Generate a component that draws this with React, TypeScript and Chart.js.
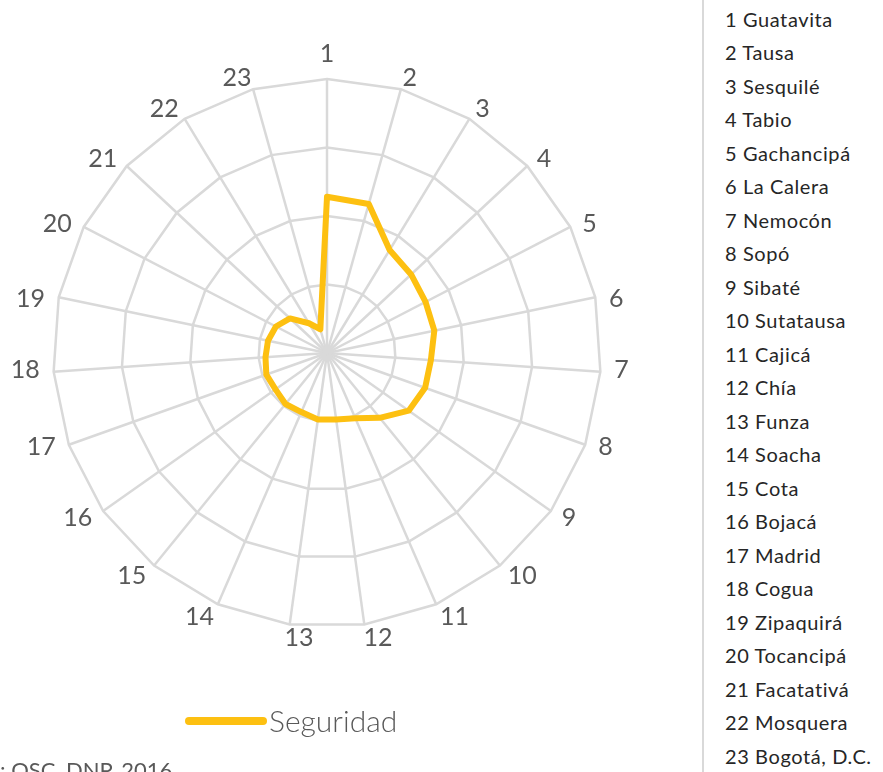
import React, { useEffect, useRef } from "react";
import { Chart, registerables } from "chart.js";

Chart.register(...registerables);

const categories = ["1","2","3","4","5","6","7","8","9","10","11","12","13","14","15","16","17","18","19","20","21","22","23"];
const municipios = [
  "Guatavita","Tausa","Sesquilé","Tabio","Gachancipá","La Calera","Nemocón","Sopó","Sibaté","Sutatausa","Cajicá","Chía",
  "Funza","Soacha","Cota","Bojacá","Madrid","Cogua","Zipaquirá","Tocancipá","Facatativá","Mosquera","Bogotá, D.C.",
];
const seguridad = [57, 56.5, 44, 42, 40.5, 40, 38, 38, 36.5, 30.5, 26, 24.5, 24.5, 23.5, 24, 23, 23.5, 22.5, 22, 21, 18.5, 12.7, 9];
const scaleMax = 100;
const scaleStep = 25;
const seriesName = "Seguridad";
const sourceText = "Fuente: OSC, DNP, 2016";

const LINE_COLOR = "#FDC011";
const GRID_COLOR = "#D9D9D9";
const LABEL_FONT = "25px Lato";

// Draws the category labels around the spokes, Excel-style placement.
const excelPointLabels = {
  id: "excelPointLabels",
  afterDraw(chart: any) {
    const scale = chart.scales.r;
    const ctx = chart.ctx;
    const labels: string[] = chart.data.labels;
    ctx.save();
    ctx.font = LABEL_FONT;
    ctx.fillStyle = "#595959";
    ctx.textAlign = "center";
    ctx.textBaseline = "alphabetic";
    labels.forEach((lab, i) => {
      const theta = scale.getIndexAngle(i);
      const w = ctx.measureText(lab).width;
      let x: number;
      let y: number;
      if (i === 0) {
        const p = scale.getPointPosition(i, scale.drawingArea + 26);
        x = p.x;
        y = p.y;
      } else {
        const p = scale.getPointPosition(i, scale.drawingArea + 17);
        const sx = Math.sign(Math.sin(theta - Math.PI / 18));
        const sy = Math.sign(Math.cos(theta));
        x = p.x + sx * (w / 2 - 3);
        y = p.y + sy * 4;
      }
      ctx.fillText(lab, x, y + 9);
    });
    ctx.restore();
  },
};

export default function App() {
  const ref = useRef<HTMLCanvasElement | null>(null);

  useEffect(() => {
    if (!ref.current) return;
    const chart = new Chart(ref.current, {
      type: "radar",
      data: {
        labels: categories,
        datasets: [
          {
            label: seriesName,
            data: seguridad,
            borderColor: LINE_COLOR,
            backgroundColor: LINE_COLOR,
            borderWidth: 6,
            pointRadius: 0,
            pointHoverRadius: 0,
            fill: false,
            tension: 0,
            borderJoinStyle: "round",
          },
        ],
      },
      options: {
        responsive: false,
        maintainAspectRatio: false,
        animation: false,
        layout: { padding: { left: 53, top: 79, right: 99, bottom: 145 } },
        plugins: { legend: { display: false }, tooltip: { enabled: false } },
        scales: {
          r: {
            min: 0,
            max: scaleMax,
            ticks: { display: false, stepSize: scaleStep },
            grid: { color: GRID_COLOR, lineWidth: 2.5, circular: false },
            angleLines: { color: GRID_COLOR, lineWidth: 2.5 },
            pointLabels: { display: false },
          },
        },
      },
      plugins: [excelPointLabels],
    });
    return () => chart.destroy();
  }, []);

  return (
    <div style={{ position: "fixed", left: 0, top: 0, width: 883, height: 772, overflow: "hidden", background: "#fff" }}>
      <canvas ref={ref} width={700} height={772} style={{ position: "absolute", left: 0, top: 0, width: 700, height: 772 }} />
      <div style={{ position: "absolute", left: 185, top: 717, width: 82, height: 8, borderRadius: 4, background: LINE_COLOR }} />
      <div style={{ position: "absolute", left: 269, top: 702, fontFamily: "Lato", fontSize: 30, lineHeight: "36px", color: "#595959", fontWeight: 300, whiteSpace: "nowrap" }}>
        {seriesName}
      </div>
      <div style={{ position: "absolute", left: 0, top: 757, fontFamily: "Lato", fontSize: 22, lineHeight: "26px", color: "#595959", whiteSpace: "nowrap" }}>
        <span style={{ position: "absolute", right: "100%" }}>{sourceText.split(":")[0]}</span>
        {":" + sourceText.split(":")[1]}
      </div>
      <div style={{ position: "absolute", left: 702, top: 0, width: 2, height: 772, background: GRID_COLOR }} />
      <div style={{ position: "absolute", left: 725, top: 2.7, fontFamily: "Lato", fontSize: 20, lineHeight: "33.5px", color: "#262626", letterSpacing: 0.6, whiteSpace: "nowrap" }}>
        {categories.map((c, i) => (
          <div key={c}>{c + " " + municipios[i]}</div>
        ))}
      </div>
    </div>
  );
}
